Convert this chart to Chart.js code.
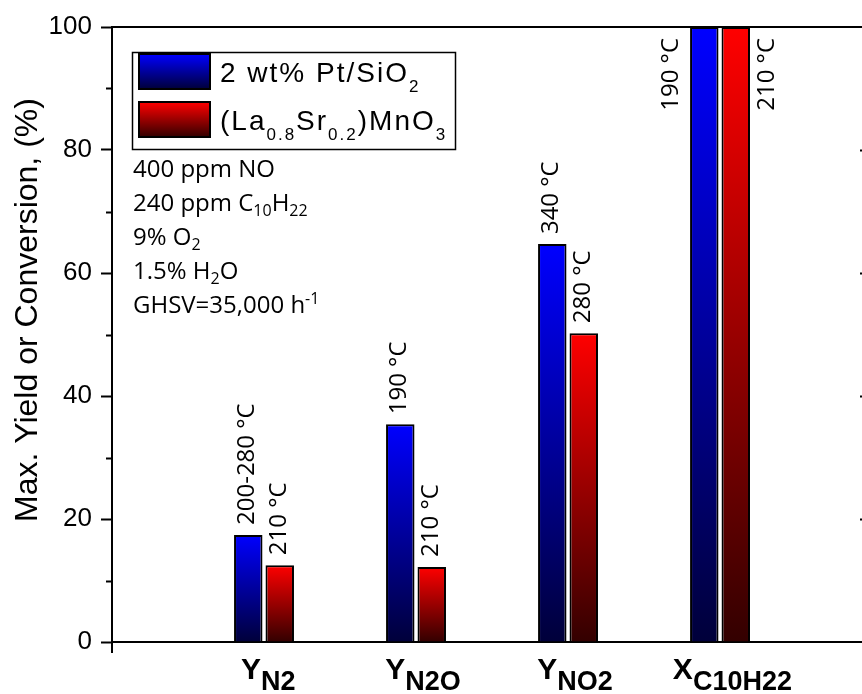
<!DOCTYPE html>
<html>
<head>
<meta charset="utf-8">
<script src="https://cdn.jsdelivr.net/npm/chart.js@4"></script>
<style>
  body { margin: 0; background: #fff; }
  #wrap { width: 862px; height: 694px; }
</style>
</head>
<body>
<div id="wrap"><canvas id="yields"></canvas></div>
<script>
// categories: main letter + subscript
var categoryMain = ["Y", "Y", "Y", "X"];
var categorySub = ["N2", "N2O", "NO2", "C10H22"];
// max yield / conversion, %
var ptValues = [17.4, 35.4, 64.7, 100];
var lsmValues = [12.5, 12.2, 50.2, 100];
// temperature at which the max was reached
var ptTemps = ["200-280 °C", "190 °C", "340 °C", "190 °C"];
var lsmTemps = ["210 °C", "210 °C", "280 °C", "210 °C"];
// legend names, [text, level] (-1 = subscript)
var ptName = [["2 wt% Pt/SiO", 0], ["2", -1]];
var lsmName = [["(La", 0], ["0.8", -1], ["Sr", 0], ["0.2", -1], [")MnO", 0], ["3", -1]];
// test conditions
var conditions = [
	[["400 ppm NO", 0]],
	[["240 ppm C", 0], ["10", -1], ["H", 0], ["22", -1]],
	[["9% O", 0], ["2", -1]],
	[["1.5% H", 0], ["2", -1], ["O", 0]],
	[["GHSV=35,000 h", 0], ["-1", 1]],
];
var yMin = 0, yMax = 100, yStep = 20;

var SANS = "'Liberation Sans', Arial, sans-serif";
var UI = "'Open Sans', 'Noto Sans', sans-serif";

function vertGrad(ctx, top, bottom, c1, c2) {
	var g = ctx.createLinearGradient(0, top, 0, bottom);
	g.addColorStop(0, c1);
	g.addColorStop(1, c2);
	return g;
}

function barFill(c1, c2) {
	return function (context) {
		var chart = context.chart;
		if (!chart.chartArea || context.type !== "data") return c1;
		var y = chart.scales.y;
		var top = Math.max(y.getPixelForValue(context.raw.y), chart.chartArea.top);
		var bottom = y.getPixelForValue(0);
		if (bottom - top < 1) return c1;
		return vertGrad(chart.ctx, top, bottom, c1, c2);
	};
}

function drawRich(ctx, x, y, parts, size, family, weight, subSize, subDy, supDy) {
	parts.forEach(function (p) {
		var lvl = p[1];
		var s = lvl === 0 ? size : subSize;
		ctx.font = weight + " " + s + "px " + family;
		var dy = lvl < 0 ? subDy : lvl > 0 ? -supDy : 0;
		ctx.fillText(p[0], x, y + dy);
		x += ctx.measureText(p[0]).width;
	});
	return x;
}

var decor = {
	id: "decor",
	afterDatasetsDraw: function (chart) {
		var ctx = chart.ctx;
		var area = chart.chartArea;
		var temps = [ptTemps, lsmTemps];
		ctx.save();
		ctx.fillStyle = "#000";
		ctx.font = "24px " + UI;
		ctx.textBaseline = "middle";
		[0, 1].forEach(function (d) {
			var meta = chart.getDatasetMeta(d);
			meta.data.forEach(function (el, i) {
				var val = chart.data.datasets[d].data[i].y;
				var x, y, align;
				if (val >= yMax) {
					x = d === 0 ? el.x - el.width / 2 - 19 : el.x + el.width / 2 + 17;
					y = area.top + 11;
					align = "right";
				} else {
					x = el.x - 1;
					y = el.y - 10;
					align = "left";
				}
				ctx.save();
				ctx.translate(x, y);
				ctx.rotate(-Math.PI / 2);
				ctx.textAlign = align;
				ctx.fillText(temps[d][i], 0, 0);
				ctx.restore();
			});
		});
		ctx.restore();
	},
	afterDraw: function (chart) {
		var ctx = chart.ctx;
		var area = chart.chartArea;
		var ys = chart.scales.y;
		var xs = chart.scales.x;
		ctx.save();
		ctx.strokeStyle = "#000";
		ctx.fillStyle = "#000";
		ctx.lineWidth = 2;
		// top frame line
		ctx.beginPath();
		ctx.moveTo(area.left, area.top);
		ctx.lineTo(area.right, area.top);
		ctx.stroke();
		// minor ticks on the left axis
		for (var v = yMin + yStep / 2; v < yMax; v += yStep) {
			var py = Math.round(ys.getPixelForValue(v)) + 0.5;
			ctx.beginPath();
			ctx.moveTo(area.left - 6, py);
			ctx.lineTo(area.left, py);
			ctx.stroke();
		}
		// inward ticks of the right axis (just off the canvas edge)
		for (var m = yMin + yStep; m < yMax; m += yStep) {
			var pm = Math.round(ys.getPixelForValue(m)) + 0.5;
			ctx.beginPath();
			ctx.moveTo(area.right - 2, pm);
			ctx.lineTo(area.right, pm);
			ctx.stroke();
		}
		// x axis tick at origin
		var x0 = xs.getPixelForValue(0);
		ctx.beginPath();
		ctx.moveTo(x0, area.bottom);
		ctx.lineTo(x0, area.bottom + 11);
		ctx.stroke();

		// y title
		ctx.save();
		ctx.translate(28, 310);
		ctx.rotate(-Math.PI / 2);
		ctx.textAlign = "center";
		ctx.textBaseline = "middle";
		ctx.font = "32px " + SANS;
		ctx.fillText("Max. Yield or Conversion, (%)", 0, 0);
		ctx.restore();

		// category labels
		ctx.textAlign = "left";
		ctx.textBaseline = "alphabetic";
		categoryMain.forEach(function (lab, i) {
			var cx = xs.getPixelForValue(i + 1);
			ctx.font = "bold 30px " + SANS;
			var wm = ctx.measureText(lab).width;
			ctx.font = "bold 27px " + SANS;
			var wsub = ctx.measureText(categorySub[i]).width;
			var sx = cx - (wm + 0.75 * wsub) / 2;
			drawRich(ctx, sx, 679, [[lab, 0], [categorySub[i], -1]], 30, SANS, "bold", 27, 11, 0);
		});

		// legend
		ctx.lineWidth = 1.5;
		ctx.strokeRect(132.5, 52.5, 323, 97);
		var sw = [
			{ y: 54, c1: "#0000ff", c2: "#00003a", name: ptName, base: 82 },
			{ y: 102, c1: "#ff0000", c2: "#330000", name: lsmName, base: 130 },
		];
		sw.forEach(function (s) {
			ctx.fillStyle = vertGrad(ctx, s.y, s.y + 35, s.c1, s.c2);
			ctx.fillRect(139, s.y, 71, 35);
			ctx.lineWidth = 2;
			ctx.strokeRect(139, s.y, 71, 35);
			ctx.fillStyle = "#000";
			ctx.letterSpacing = "2px";
			drawRich(ctx, 220, s.base, s.name, 28, SANS, "normal", 17, 10, 0);
			ctx.letterSpacing = "0px";
		});

		// conditions
		conditions.forEach(function (line, i) {
			drawRich(ctx, 133, 177 + i * 34, line, 24, UI, "normal", 16, 5, 9);
		});
		ctx.restore();
	},
};

var chartCtx = document.getElementById("yields").getContext("2d");
var yieldChart = new Chart(chartCtx, {
	type: "bar",
	data: {
		datasets: [
			{
				label: "2 wt% Pt/SiO2",
				data: ptValues.map(function (v, i) { return { x: i + 1, y: v }; }),
				backgroundColor: barFill("#0000ff", "#00003a"),
				borderColor: "#000",
				borderWidth: 2,
			},
			{
				label: "(La0.8Sr0.2)MnO3",
				data: lsmValues.map(function (v, i) { return { x: i + 1, y: v }; }),
				backgroundColor: barFill("#ff0000", "#330000"),
				borderColor: "#000",
				borderWidth: 2,
			},
		],
	},
	options: {
		responsive: true,
		maintainAspectRatio: false,
		animation: false,
		categoryPercentage: 0.414,
		barPercentage: 0.905,
		layout: { padding: { top: 27, left: 0, right: 0, bottom: 0 } },
		plugins: {
			legend: { display: false },
			tooltip: { enabled: false },
		},
		scales: {
			x: {
				type: "linear",
				offset: false,
				min: 0,
				max: 4.934,
				grid: { display: false },
				ticks: { display: false },
				border: { display: true, color: "#000", width: 2 },
				afterBuildTicks: function (scale) {
					scale.ticks = categoryMain.map(function (c, i) { return { value: i + 1 }; });
				},
				afterFit: function (scale) { scale.height = 52; },
			},
			y: {
				min: yMin,
				max: yMax,
				ticks: {
					stepSize: yStep,
					color: "#000",
					padding: 9,
					font: { family: SANS, size: 26 },
				},
				grid: {
					drawOnChartArea: false,
					drawTicks: true,
					tickLength: 11,
					tickColor: "#000",
					tickWidth: 2,
				},
				border: { display: true, color: "#000", width: 2 },
				afterFit: function (scale) { scale.width = 112; },
			},
		},
	},
	plugins: [decor],
});
</script>
</body>
</html>
